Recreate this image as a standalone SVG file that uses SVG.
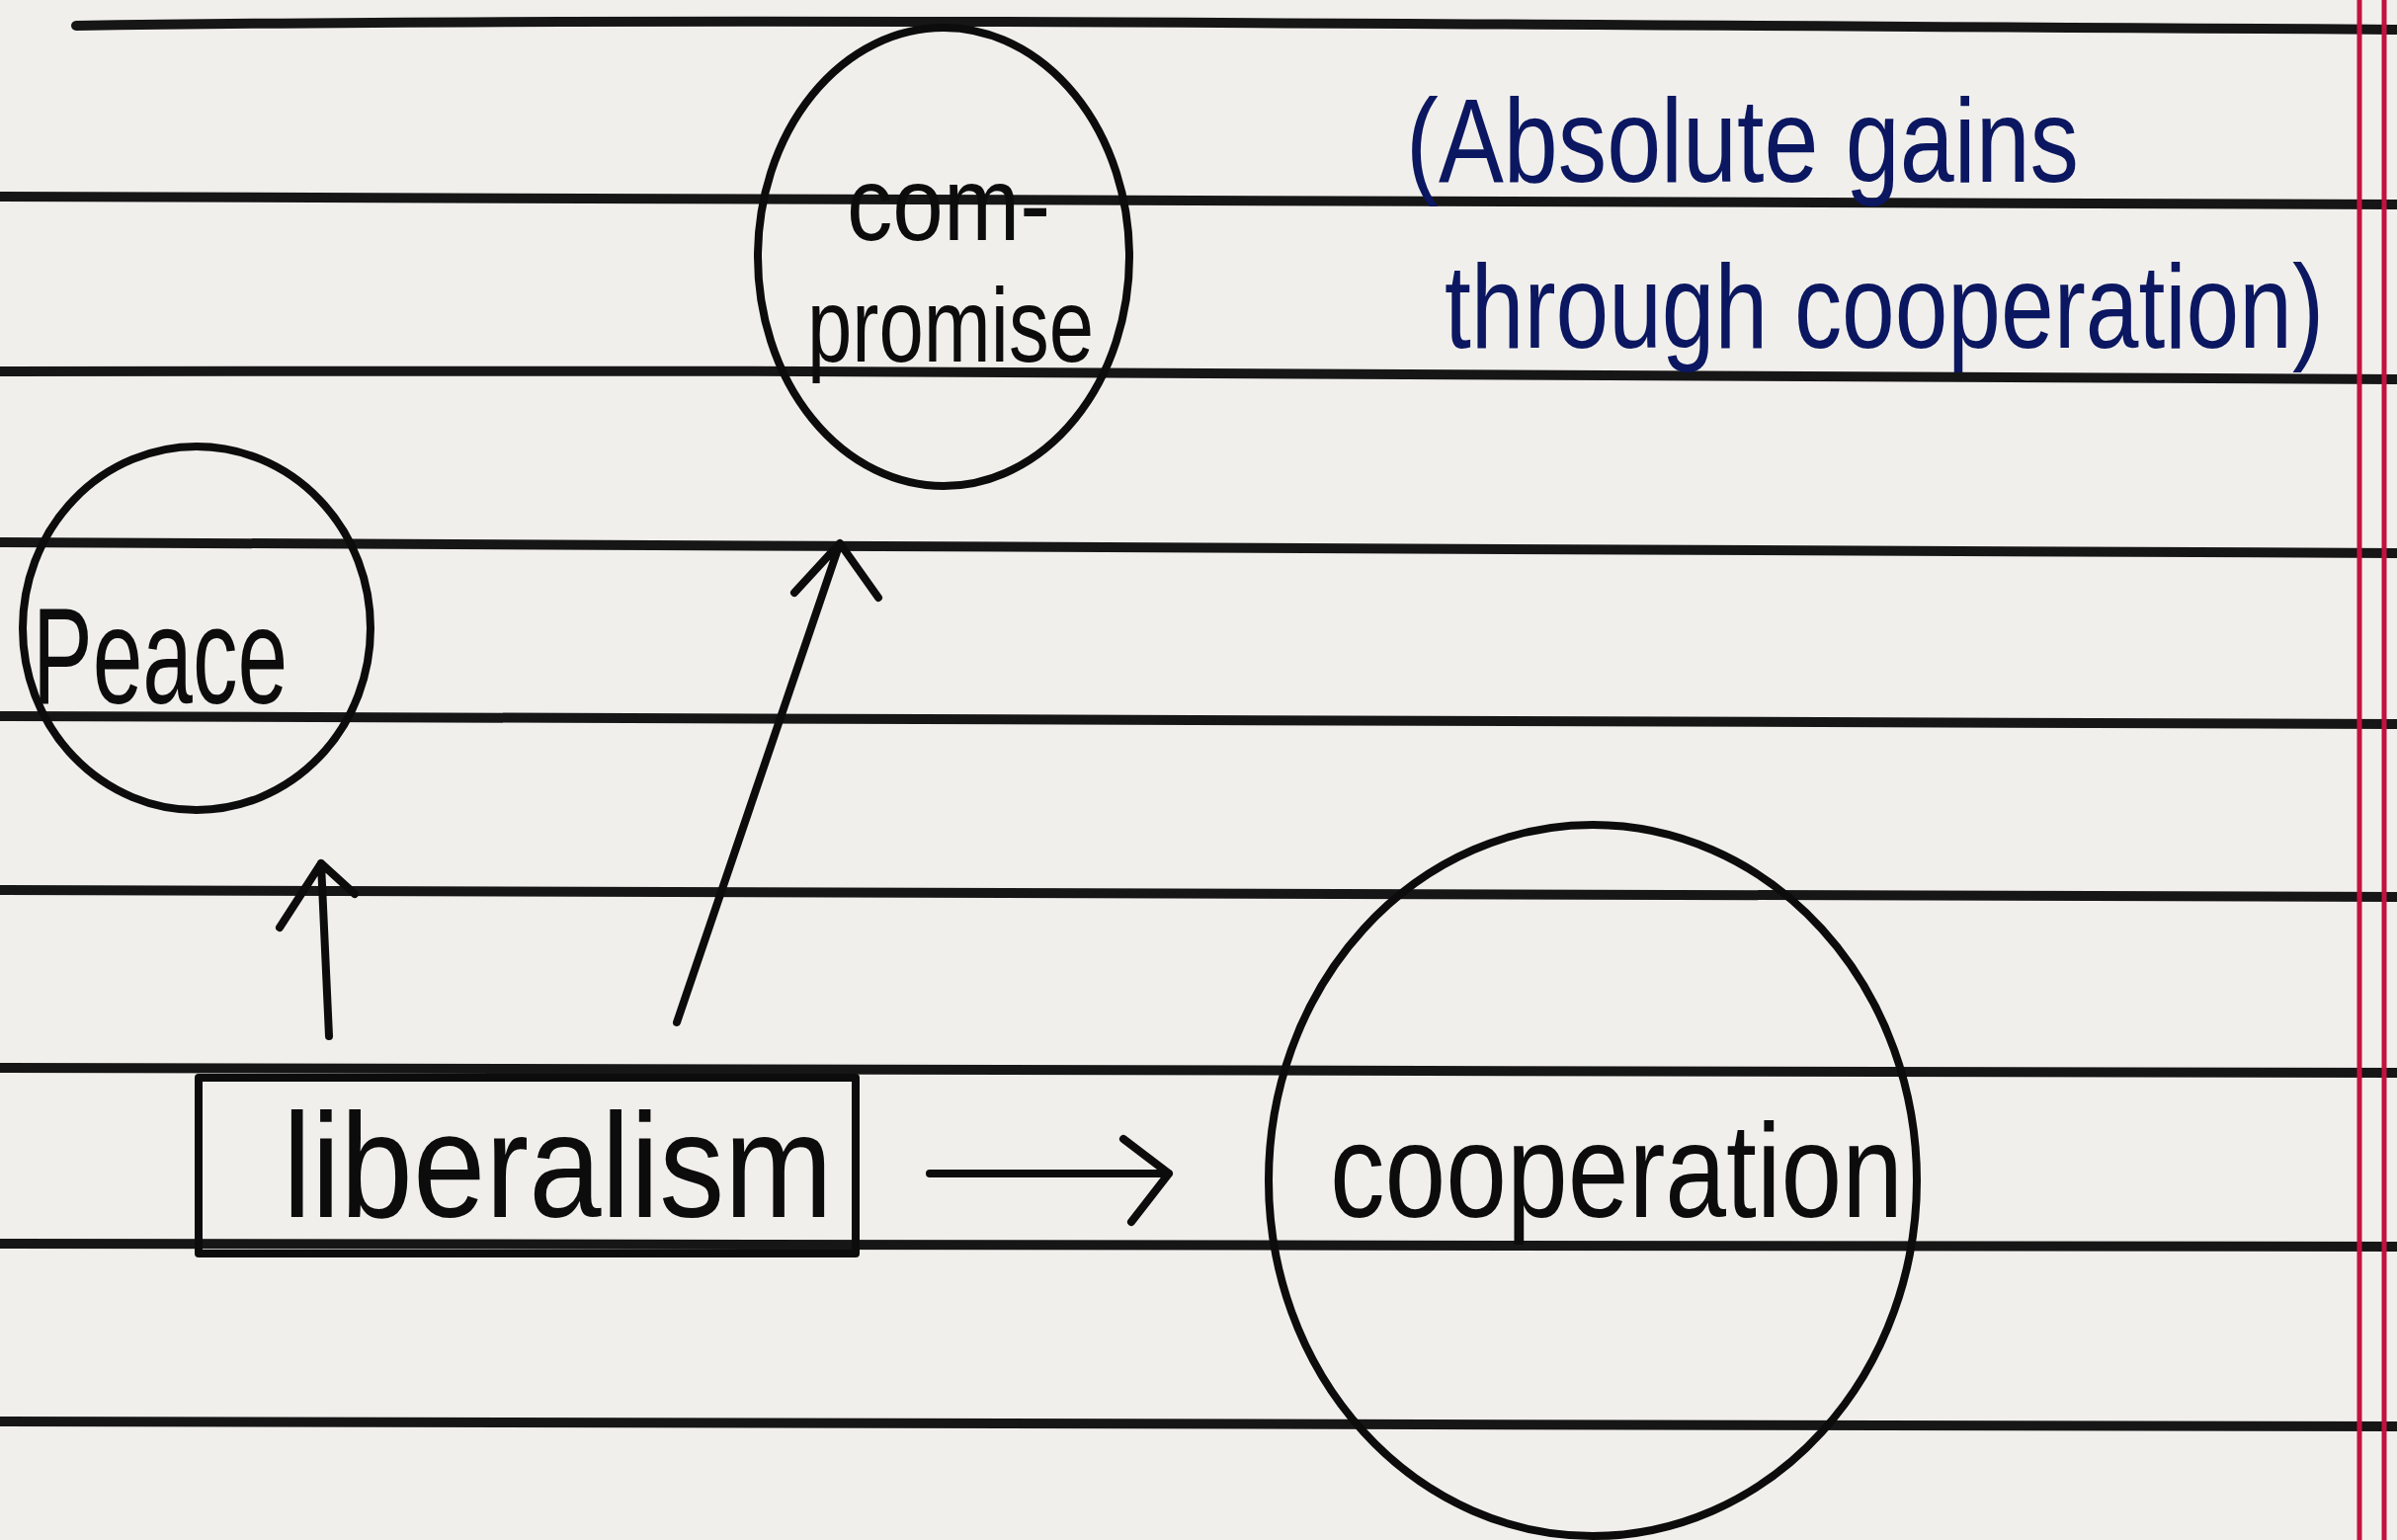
<svg xmlns="http://www.w3.org/2000/svg" width="2426" height="1559" viewBox="0 0 2426 1559">
<style>
.rule{fill:none;stroke:#161616;stroke-width:10;stroke-linecap:round}
.margin{fill:none;stroke:#c2123e;stroke-width:5}
.shape{fill:none;stroke:#0c0c0c;stroke-width:8;stroke-linecap:round;stroke-linejoin:round}
.hand{font-family:"Liberation Sans","DejaVu Sans",sans-serif;fill:#0c0c0c}
.blue{font-family:"Liberation Sans","DejaVu Sans",sans-serif;fill:#0b1760}
</style>
<rect x="0" y="0" width="2426" height="1559" fill="#f1efec"/>
<g id="paper">
<path class="rule" d="M77 26 C600 18 1200 22 2426 30"/>
<path class="rule" d="M0 199 C700 195 1400 205 2426 207"/>
<path class="rule" d="M0 376 C800 372 1500 382 2426 384"/>
<path class="rule" d="M0 549 C800 546 1600 555 2426 560"/>
<path class="rule" d="M0 725 C800 720 1600 728 2426 733"/>
<path class="rule" d="M0 901 C800 897 1600 903 2426 908"/>
<path class="rule" d="M0 1081 C800 1077 1600 1083 2426 1086"/>
<path class="rule" d="M0 1259 C800 1255 1600 1258 2426 1262"/>
<path class="rule" d="M0 1439 C800 1435 1600 1440 2426 1444"/>
<line class="margin" x1="2388" y1="0" x2="2388" y2="1559"/>
<line class="margin" x1="2413" y1="0" x2="2413" y2="1559"/>
</g>
<g id="compromise">
<ellipse class="shape" cx="955" cy="260" rx="188" ry="232"/>
<text class="hand" x="857" y="243" font-size="105" textLength="206" lengthAdjust="spacingAndGlyphs">com-</text>
<text class="hand" x="817" y="366" font-size="105" textLength="290" lengthAdjust="spacingAndGlyphs">promise</text>
</g>
<g id="peace">
<ellipse class="shape" cx="199" cy="636" rx="176" ry="184"/>
<text class="hand" x="33" y="712" font-size="140" textLength="258" lengthAdjust="spacingAndGlyphs">Peace</text>
</g>
<g id="liberalism">
<rect class="shape" x="201" y="1091" width="665" height="178"/>
<text class="hand" x="286" y="1232" font-size="150" textLength="557" lengthAdjust="spacingAndGlyphs">liberalism</text>
</g>
<g id="cooperation">
<ellipse class="shape" cx="1612" cy="1195" rx="328" ry="360"/>
<text class="hand" x="1346" y="1232" font-size="135" textLength="580" lengthAdjust="spacingAndGlyphs">cooperation</text>
</g>
<g id="note">
<text class="blue" x="1423" y="184" font-size="120" textLength="681" lengthAdjust="spacingAndGlyphs">(Absolute gains</text>
<text class="blue" x="1462" y="352" font-size="120" textLength="890" lengthAdjust="spacingAndGlyphs">through cooperation)</text>
</g>
<g id="connectors">
<path class="shape" d="M333 1049 L325 874 M283 939 L325 874 L359 905"/>
<path class="shape" d="M685 1035 L850 550 M804 600 L850 550 L889 605"/>
<path class="shape" d="M941 1188 L1183 1188 M1137 1153 L1183 1188 L1145 1237"/>
</g>
</svg>
